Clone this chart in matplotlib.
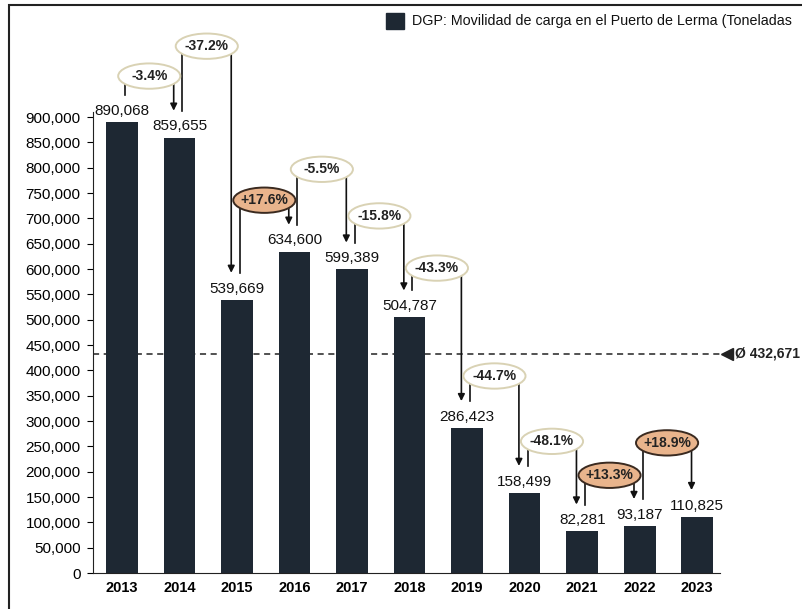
import matplotlib.pyplot as plt
from matplotlib.patches import Ellipse, Rectangle

years = ['2013', '2014', '2015', '2016', '2017', '2018', '2019', '2020', '2021', '2022', '2023']
toneladas = [890068, 859655, 539669, 634600, 599389, 504787, 286423, 158499, 82281, 93187, 110825]
cambios = ['-3.4%', '-37.2%', '+17.6%', '-5.5%', '-15.8%', '-43.3%', '-44.7%', '-48.1%', '+13.3%', '+18.9%']
# height of the percentage bubbles (in tonnes)
burbuja_y = [981000, 1040000, 736000, 797000, 705000, 602000, 389000, 260000, 193000, 257000]
promedio = 432671

bar_color = '#1e2833'
plt.rcParams['font.family'] = ['Liberation Sans', 'DejaVu Sans']

fig = plt.figure(figsize=(8.03, 6.09), dpi=100)
ax = fig.add_axes([0.116, 0.059, 0.781, 0.757])

x = list(range(len(years)))
ax.bar(x, toneladas, width=0.55, color=bar_color, zorder=2)

for i, v in enumerate(toneladas):
    ax.annotate(f'{v:,}', (i, v), xytext=(0, 3), textcoords='offset points',
                ha='center', va='bottom', fontsize=11, color='#111111')

# average line
ax.axhline(promedio, color='#222222', ls=(0, (4, 3)), lw=1.1, zorder=1)
ax.plot([10.52], [promedio], marker='<', color='#222222', ms=8, clip_on=False)
ax.text(10.66, promedio, 'Ø 432,671', va='center', ha='left', fontsize=10,
        fontweight='bold', color='#222222', clip_on=False)

# percentage change brackets
gap = 53000
for i, txt in enumerate(cambios):
    x0 = i + 0.05
    x1 = i + 0.9
    xc = (x0 + x1) / 2
    yc = burbuja_y[i]
    ax.plot([x0, x0, x1], [toneladas[i] + gap, yc, yc], color='#111111', lw=1.2,
            clip_on=False, zorder=3)
    ax.annotate('', xy=(x1, toneladas[i + 1] + gap), xytext=(x1, yc),
                arrowprops=dict(arrowstyle='-|>', color='#111111', lw=1.2,
                                mutation_scale=10, shrinkA=0, shrinkB=0),
                annotation_clip=False, zorder=3)
    positivo = txt.startswith('+')
    ell = Ellipse((xc, yc), 1.08, 50000, clip_on=False, zorder=4,
                  facecolor='#e9b48c' if positivo else 'white',
                  edgecolor='#3a2a20' if positivo else '#d9d2b4', lw=1.4)
    ax.add_patch(ell)
    ax.text(xc, yc, txt, ha='center', va='center', fontsize=10, fontweight='bold',
            color='#222222', zorder=5, clip_on=False)

ax.set_xlim(-0.5, 10.4)
ax.set_ylim(0, 910000)
ax.set_yticks(range(0, 900001, 50000))
ax.set_yticklabels([f'{t:,}' for t in range(0, 900001, 50000)], fontsize=11)
ax.set_xticks(x)
ax.set_xticklabels(years, fontsize=10.5, fontweight='bold',
                   family=['Liberation Sans Narrow', 'Liberation Sans'])
ax.tick_params(axis='x', length=0, pad=6)
ax.tick_params(axis='y', length=4, pad=5)
for s in ['top', 'right']:
    ax.spines[s].set_visible(False)
ax.spines['left'].set_color('#222222')
ax.spines['bottom'].set_color('#222222')

# legend (cut at the right edge in the original)
fig.patches.append(Rectangle((386 / 803, 1 - 29 / 609), 18 / 803, 16 / 609,
                             transform=fig.transFigure, color=bar_color))
fig.text(412 / 803, 1 - 21 / 609, 'DGP: Movilidad de carga en el Puerto de Lerma (Toneladas',
         va='center', ha='left', fontsize=10.3, color='#111111')

# outer frame
fig.patches.append(Rectangle((9 / 803, -0.1), 1.2, 1.1 - 5 / 609, transform=fig.transFigure,
                             fill=False, edgecolor='#222222', lw=1.5))

fig.savefig('out.png', dpi=100)
